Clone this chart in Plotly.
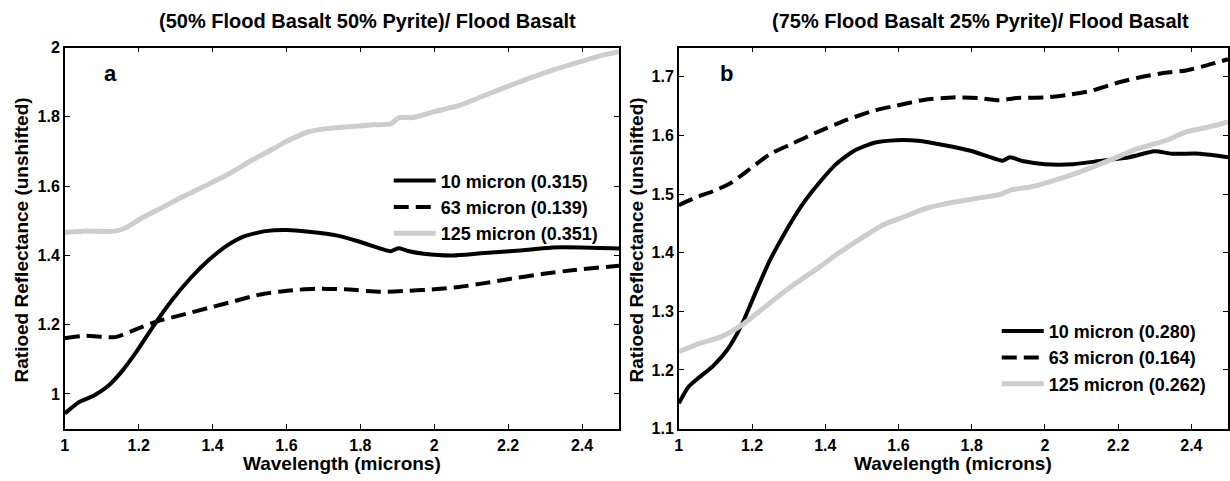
import plotly.graph_objects as go

W, H = 1230, 481

# ---------------- data: panel a ----------------
a10_x = [1.0, 1.039, 1.078, 1.117, 1.155, 1.194, 1.243, 1.291, 1.34, 1.388, 1.437, 1.485, 1.544, 1.602,
         1.66, 1.738, 1.796, 1.854, 1.883, 1.9, 1.908, 1.932, 1.971, 2.049, 2.126, 2.204, 2.262, 2.32, 2.398, 2.5]
a10_y = [0.944, 0.977, 0.995, 1.023, 1.066, 1.122, 1.201, 1.272, 1.334, 1.385, 1.427, 1.455, 1.47, 1.473,
         1.468, 1.457, 1.44, 1.42, 1.412, 1.42, 1.42, 1.412, 1.405, 1.40, 1.406, 1.412, 1.417, 1.423, 1.423, 1.42]

a63_x = [1.0, 1.058, 1.136, 1.194, 1.252, 1.32, 1.388, 1.456, 1.524, 1.602, 1.68, 1.757, 1.854, 1.932,
         2.0, 2.068, 2.136, 2.204, 2.291, 2.379, 2.5]
a63_y = [1.161, 1.168, 1.164, 1.187, 1.21, 1.229, 1.248, 1.267, 1.286, 1.298, 1.304, 1.302, 1.295, 1.298,
         1.302, 1.309, 1.32, 1.332, 1.346, 1.358, 1.37]

a125_x = [1.0, 1.049, 1.136, 1.165, 1.204, 1.272, 1.32, 1.388, 1.447, 1.505, 1.563, 1.602, 1.66, 1.709,
          1.777, 1.835, 1.883, 1.9, 1.908, 1.942, 2.0, 2.068, 2.146, 2.204, 2.262, 2.32, 2.398, 2.456, 2.5]
a125_y = [1.466, 1.47, 1.47, 1.48, 1.505, 1.543, 1.57, 1.605, 1.637, 1.674, 1.707, 1.73, 1.757, 1.766,
          1.772, 1.777, 1.78, 1.795, 1.798, 1.798, 1.815, 1.833, 1.866, 1.89, 1.913, 1.935, 1.96, 1.978, 1.988]

# ---------------- data: panel b ----------------
b10_x = [1.0, 1.026, 1.055, 1.094, 1.132, 1.171, 1.209, 1.248, 1.286, 1.335, 1.383, 1.431, 1.479, 1.537,
         1.595, 1.653, 1.73, 1.797, 1.846, 1.884, 1.904, 1.942, 2.0, 2.077, 2.154, 2.231, 2.299, 2.347, 2.424, 2.5]
b10_y = [1.143, 1.171, 1.187, 1.207, 1.234, 1.276, 1.331, 1.386, 1.43, 1.48, 1.519, 1.552, 1.574, 1.588,
         1.592, 1.591, 1.583, 1.574, 1.564, 1.557, 1.563, 1.556, 1.551, 1.551, 1.557, 1.563, 1.573, 1.569, 1.569, 1.563]

b63_x = [1.0, 1.045, 1.094, 1.142, 1.19, 1.248, 1.306, 1.383, 1.46, 1.537, 1.595, 1.672, 1.749, 1.817,
         1.875, 1.923, 2.0, 2.058, 2.125, 2.193, 2.251, 2.328, 2.386, 2.444, 2.5]
b63_y = [1.481, 1.494, 1.505, 1.519, 1.541, 1.568, 1.585, 1.607, 1.627, 1.643, 1.651, 1.661, 1.665, 1.664,
         1.66, 1.664, 1.665, 1.669, 1.676, 1.689, 1.698, 1.707, 1.711, 1.72, 1.73]

b125_x = [1.0, 1.055, 1.113, 1.171, 1.238, 1.306, 1.383, 1.431, 1.499, 1.556, 1.614, 1.672, 1.749, 1.826,
          1.875, 1.913, 1.961, 2.019, 2.096, 2.174, 2.251, 2.328, 2.386, 2.444, 2.5]
b125_y = [1.231, 1.245, 1.256, 1.276, 1.309, 1.342, 1.375, 1.397, 1.425, 1.447, 1.461, 1.475, 1.486, 1.494,
          1.499, 1.508, 1.512, 1.522, 1.538, 1.557, 1.577, 1.591, 1.606, 1.614, 1.623]

names_a = ["10 micron (0.315)", "63 micron (0.139)", "125 micron (0.351)"]
names_b = ["10 micron (0.280)", "63 micron (0.164)", "125 micron (0.262)"]

x_ticks = [1, 1.2, 1.4, 1.6, 1.8, 2, 2.2, 2.4]
x_ticktext = ["1", "1.2", "1.4", "1.6", "1.8", "2", "2.2", "2.4"]
ya_ticks = [1, 1.2, 1.4, 1.6, 1.8, 2]
ya_ticktext = ["1", "1.2", "1.4", "1.6", "1.8", "2"]
yb_ticks = [1.1, 1.2, 1.3, 1.4, 1.5, 1.6, 1.7]
yb_ticktext = ["1.1", "1.2", "1.3", "1.4", "1.5", "1.6", "1.7"]

title_a = "(50% Flood Basalt 50% Pyrite)/ Flood Basalt"
title_b = "(75% Flood Basalt 25% Pyrite)/ Flood Basalt"
xlabel = "Wavelength (microns)"
ylabel = "Ratioed Reflectance (unshifted)"

# ---------------- styling ----------------
FONT = "Liberation Sans, Arial, sans-serif"
BLACK = "#000000"
GRAY = "#cdcdcd"
DASH = "15px,7px"


def px(x):
    return x / W


def py(y):
    return 1 - y / H


fig = go.Figure()

styles = [dict(color=BLACK, width=4, dash="solid"),
          dict(color=BLACK, width=4, dash=DASH),
          dict(color=GRAY, width=5, dash="solid")]

for (xs, ys), nm, st in zip([(a10_x, a10_y), (a63_x, a63_y), (a125_x, a125_y)], names_a, styles):
    fig.add_trace(go.Scatter(x=xs, y=ys, mode="lines", name=nm, line=dict(shape="spline", smoothing=0.6, **st),
                             xaxis="x", yaxis="y", legend="legend"))
for (xs, ys), nm, st in zip([(b10_x, b10_y), (b63_x, b63_y), (b125_x, b125_y)], names_b, styles):
    fig.add_trace(go.Scatter(x=xs, y=ys, mode="lines", name=nm, line=dict(shape="spline", smoothing=0.6, **st),
                             xaxis="x2", yaxis="y2", legend="legend2"))

tickfont = dict(family=FONT, size=16, color=BLACK, weight="bold")
common = dict(showline=True, linecolor=BLACK, linewidth=1.5, mirror="allticks", ticks="inside",
              ticklen=5, tickwidth=1, tickcolor=BLACK, showgrid=False, zeroline=False, tickfont=tickfont)

yd = [py(436), py(41)]
leg_font = dict(family=FONT, size=18, color=BLACK, weight="bold")
fig.update_layout(
    width=W, height=H,
    margin=dict(l=0, r=0, t=0, b=0),
    paper_bgcolor="white", plot_bgcolor="white",
    xaxis=dict(domain=[px(61), px(617)], range=[1, 2.5], tickvals=x_ticks, ticktext=x_ticktext,
               anchor="y", ticklabelstandoff=1, **common),
    yaxis=dict(domain=yd, range=[0.9, 2.0], tickvals=ya_ticks, ticktext=ya_ticktext, anchor="x", **common),
    xaxis2=dict(domain=[px(677), px(1228)], range=[1, 2.5], tickvals=x_ticks, ticktext=x_ticktext,
                anchor="y2", ticklabelstandoff=1, **common),
    yaxis2=dict(domain=yd, range=[1.1, 1.75], tickvals=yb_ticks, ticktext=yb_ticktext, anchor="x2", **common),
    legend=dict(x=px(386), y=py(160), xanchor="left", yanchor="top", bgcolor="rgba(255,255,255,0)",
                font=leg_font, tracegroupgap=0, itemwidth=42, itemclick=False),
    legend2=dict(x=px(996), y=py(316), xanchor="left", yanchor="top", bgcolor="rgba(255,255,255,0)",
                 font=leg_font, tracegroupgap=0, itemwidth=42, itemclick=False),
    showlegend=True,
)

ann_font = dict(family=FONT, size=20, color=BLACK, weight="bold")
lab_font = dict(family=FONT, size=19, color=BLACK, weight="bold")
annotations = [
    dict(text=title_a, x=px(365), y=py(13), font=ann_font),
    dict(text=title_b, x=px(980), y=py(13), font=ann_font),
    dict(text=xlabel, x=px(339), y=py(472), font=lab_font),
    dict(text=xlabel, x=px(952), y=py(472), font=lab_font),
    dict(text=ylabel, x=px(18), y=py(240), font=lab_font, textangle=-90),
    dict(text=ylabel, x=px(635), y=py(240), font=lab_font, textangle=-90),
    dict(text="a", x=px(107), y=py(68), font=dict(family=FONT, size=22, color=BLACK, weight="bold")),
    dict(text="b", x=px(725), y=py(68), font=dict(family=FONT, size=22, color=BLACK, weight="bold")),
]
for a in annotations:
    a.update(xref="paper", yref="paper", showarrow=False, xanchor="center", yanchor="middle")
fig.update_layout(annotations=annotations)

fig.write_html("out.html")
